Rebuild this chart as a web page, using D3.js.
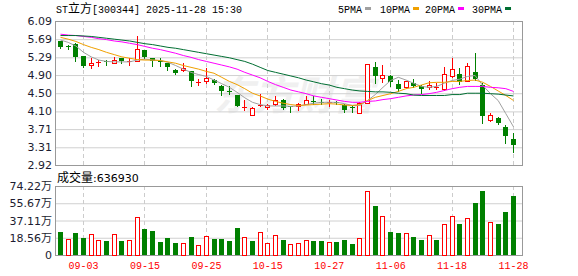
<!DOCTYPE html>
<html lang="zh-CN">
<head>
<meta charset="utf-8">
<title>ST立方 日K</title>
<script src="https://cdn.jsdelivr.net/npm/d3@7/dist/d3.min.js"></script>
<style>
  body { margin: 0; background: #fff; }
  svg text { font-family: "DejaVu Sans", sans-serif; }
  .mono { font-family: "Liberation Mono", "DejaVu Sans Mono", monospace; }
</style>
</head>
<body>
<svg id="chart" width="578" height="276"></svg>
<script>
// trading days shown (2025)
var dates = ["08-29","09-01","09-02","09-03","09-04","09-05","09-08","09-09","09-10","09-11",
  "09-12","09-15","09-16","09-17","09-18","09-19","09-22","09-23","09-24","09-25",
  "09-26","09-29","09-30","10-09","10-10","10-13","10-14","10-15","10-16","10-17",
  "10-20","10-21","10-22","10-23","10-24","10-27","10-28","10-29","10-30","10-31",
  "11-03","11-04","11-05","11-06","11-07","11-10","11-11","11-12","11-13","11-14",
  "11-17","11-18","11-19","11-20","11-21","11-24","11-25","11-26","11-27","11-28"];

var opens = [5.65,5.53,5.59,5.31,5.12,5.18,5.22,5.17,5.27,5.19,
  5.22,5.45,5.27,5.21,5.16,5.02,5.01,5.00,4.73,4.76,
  4.80,4.67,4.55,4.45,4.19,4.03,4.22,4.19,4.27,4.36,
  4.21,4.21,4.27,4.33,4.31,4.29,4.31,4.25,4.20,4.07,
  4.29,5.08,4.84,4.87,4.71,4.63,4.72,4.67,4.63,4.62,
  4.60,4.88,4.92,4.78,4.96,4.68,3.92,3.96,3.75,3.50];
var highs = [5.66,5.56,5.60,5.32,5.28,5.23,5.23,5.30,5.28,5.27,
  5.75,5.46,5.28,5.27,5.17,5.03,5.17,5.00,4.81,5.05,
  4.81,4.68,4.65,4.46,4.34,4.19,4.49,4.26,4.43,4.37,
  4.22,4.28,4.43,4.43,4.37,4.34,4.33,4.26,4.24,4.30,
  5.15,5.18,5.13,4.90,4.79,4.77,4.82,4.68,4.78,4.73,
  5.08,5.27,5.06,5.16,5.38,4.73,4.07,3.97,3.81,3.63];
var lows = [5.50,5.47,5.20,5.07,5.06,5.11,5.13,5.16,5.16,5.13,
  5.21,5.28,5.10,5.11,5.01,4.93,4.98,4.65,4.68,4.72,
  4.70,4.47,4.49,4.21,4.14,4.02,4.21,4.15,4.23,4.15,
  4.09,4.12,4.26,4.27,4.27,4.21,4.27,4.08,4.09,4.06,
  4.28,4.72,4.74,4.67,4.56,4.62,4.63,4.50,4.60,4.60,
  4.58,4.85,4.71,4.76,4.80,3.84,3.88,3.82,3.41,3.20];
var closes = [5.51,5.52,5.29,5.09,5.17,5.19,5.18,5.24,5.20,5.22,
  5.48,5.29,5.22,5.20,5.07,4.95,5.05,4.76,4.75,4.84,
  4.72,4.54,4.54,4.22,4.20,4.18,4.23,4.25,4.34,4.17,
  4.20,4.27,4.34,4.32,4.30,4.30,4.30,4.12,4.19,4.28,
  5.14,4.89,4.90,4.74,4.60,4.76,4.65,4.60,4.69,4.63,
  4.92,5.03,4.74,5.09,4.81,4.00,4.03,3.85,3.56,3.36];

// volume in 万 (10k lots), 1 = up day (red), 0 = down day (green)
var volumes = [25.1,17.2,24.0,18.3,22.6,16.1,15.1,22.6,15.1,16.1,
  40.5,28.0,25.8,14.3,18.3,12.9,12.9,19.4,10.8,20.1,
  17.2,17.2,15.1,29.0,19.0,15.1,24.7,12.5,21.2,16.1,
  11.5,12.5,15.7,15.1,15.1,14.0,14.0,16.1,11.8,17.9,
  68.5,52.7,41.6,24.7,23.7,23.3,19.4,16.1,21.2,16.1,
  33.0,41.6,33.3,39.5,55.9,68.72,35.2,33.3,46.3,63.693];
var volUp = [0,1,0,0,1,1,0,1,0,1, 1,0,0,0,0,0,1,0,1,1,
  0,0,0,0,1,0,1,1,1,0, 1,1,1,0,0,1,0,0,0,1,
  1,0,1,0,0,1,0,0,1,0, 1,1,0,1,0,0,1,0,0,0];

// moving averages
var ma5 = [5.67,5.62,5.54,5.40,5.30,5.23,5.20,5.19,5.19,5.19,
  5.23,5.25,5.23,5.22,5.18,5.11,5.03,4.96,4.91,4.87,
  4.79,4.71,4.63,4.52,4.40,4.30,4.25,4.22,4.22,4.22,
  4.21,4.22,4.25,4.28,4.30,4.30,4.30,4.27,4.23,4.23,
  4.34,4.47,4.63,4.78,4.85,4.79,4.72,4.65,4.63,4.65,
  4.72,4.78,4.81,4.87,4.89,4.67,4.49,4.34,4.05,3.76];
var ma10 = [5.73,5.69,5.64,5.57,5.51,5.46,5.40,5.35,5.30,5.27,
  5.24,5.23,5.23,5.22,5.19,5.16,5.11,5.07,5.03,4.98,
  4.94,4.85,4.76,4.69,4.60,4.50,4.44,4.37,4.32,4.28,
  4.25,4.23,4.24,4.25,4.26,4.27,4.26,4.24,4.23,4.25,
  4.34,4.41,4.45,4.49,4.54,4.60,4.63,4.68,4.73,4.74,
  4.74,4.76,4.76,4.78,4.79,4.74,4.65,4.55,4.45,4.34];
var ma20 = [5.80,5.78,5.77,5.75,5.73,5.70,5.68,5.65,5.63,5.60,
  5.57,5.53,5.49,5.46,5.42,5.38,5.33,5.29,5.24,5.20,
  5.16,5.12,5.08,5.03,4.96,4.90,4.84,4.76,4.69,4.63,
  4.57,4.53,4.49,4.44,4.41,4.38,4.35,4.32,4.30,4.30,
  4.32,4.33,4.36,4.38,4.41,4.44,4.46,4.47,4.49,4.52,
  4.56,4.60,4.63,4.65,4.65,4.65,4.63,4.62,4.60,4.54];
var ma30 = [5.77,5.77,5.77,5.76,5.75,5.73,5.71,5.69,5.67,5.65,
  5.62,5.59,5.57,5.54,5.51,5.49,5.46,5.43,5.40,5.37,
  5.34,5.31,5.28,5.24,5.20,5.14,5.07,5.00,4.96,4.92,
  4.88,4.84,4.79,4.75,4.71,4.68,4.63,4.60,4.57,4.55,
  4.54,4.53,4.53,4.52,4.50,4.49,4.46,4.45,4.45,4.45,
  4.45,4.47,4.47,4.50,4.50,4.50,4.49,4.48,4.46,4.44];

var priceTicks = [6.09, 5.69, 5.29, 4.90, 4.50, 4.10, 3.71, 3.31, 2.92];
var volTicks = [0, 18.56, 37.11, 55.67, 74.22];
var xLabels = ["09-03","09-15","09-25","10-15","10-27","11-06","11-18","11-28"];

var maNames = ["5PMA", "10PMA", "20PMA", "30PMA"];
var maColors = ["#a0a0a0", "#f0a000", "#ff00ff", "#006e32"];
var maSeries = [ma5, ma10, ma20, ma30];

var UP = "#ff0000", DOWN = "#008000";
var left = 55, right = 522;
var pTop = 21, pBot = 165, vTop = 186, vBot = 255;

var svg = d3.select("#chart");

var x = d3.scalePoint().domain(dates).range([60, 513]);
var y = d3.scaleLinear().domain([2.92, 6.09]).range([pBot, pTop]);
var yv = d3.scaleLinear().domain([0, 74.22]).range([vBot, vTop]);

// watermark
svg.append("text")
  .attr("x", 214).attr("y", 110)
  .attr("font-size", "40px")
  .attr("font-weight", "bold")
  .attr("font-style", "italic")
  .style("font-family", "'Noto Sans CJK SC', sans-serif")
  .attr("fill", "#f0f0f0")
  .text("东方财富");

// price axis + horizontal grid
var gy = svg.append("g")
  .attr("transform", "translate(" + left + ",0)")
  .call(d3.axisLeft(y).tickValues(priceTicks).tickFormat(d3.format(".2f"))
    .tickSize(-(right - left)).tickPadding(3));
gy.select(".domain").remove();
gy.selectAll("line").attr("stroke", "#d0d0d0");
gy.selectAll("text").attr("font-size", "11px").attr("fill", "#1c1c30");

// volume axis + grid
var gv = svg.append("g")
  .attr("transform", "translate(" + left + ",0)")
  .call(d3.axisLeft(yv).tickValues(volTicks)
    .tickFormat(function(d){ return d === 0 ? "0" : d.toFixed(2) + "万"; })
    .tickSize(-(right - left)).tickPadding(3));
gv.select(".domain").remove();
gv.selectAll("line").attr("stroke", "#d0d0d0");
gv.selectAll("text").attr("font-size", "11px").attr("fill", "#1c1c30");

// dashed verticals in both panes
xLabels.forEach(function(d){
  var px = Math.round(x(d)) + 0.5;
  [[pTop, pBot], [vTop, vBot]].forEach(function(r){
    svg.append("line")
      .attr("x1", px).attr("x2", px).attr("y1", r[0]).attr("y2", r[1])
      .attr("stroke", "#cccccc").attr("stroke-dasharray", "4,3");
  });
});

// x axis labels
var gx = svg.append("g")
  .attr("transform", "translate(0," + vBot + ")")
  .call(d3.axisBottom(x).tickValues(xLabels).tickSize(0).tickPadding(7));
gx.select(".domain").remove();
gx.selectAll("text").attr("class", "mono").attr("font-size", "10px").attr("fill", "#ff0000");

// pane borders
[[pTop, pBot], [vTop, vBot]].forEach(function(r){
  svg.append("rect")
    .attr("x", left + 0.5).attr("y", r[0] + 0.5)
    .attr("width", right - left).attr("height", r[1] - r[0])
    .attr("fill", "none").attr("stroke", "#999");
});

// candles
var idx = d3.range(dates.length);
var candles = svg.append("g").selectAll("g").data(idx).enter().append("g");
candles.each(function(i){
  var g = d3.select(this);
  var cx = Math.round(x(dates[i]));
  var up = closes[i] > opens[i];
  var col = up ? UP : DOWN;
  g.append("line")
    .attr("x1", cx + 0.5).attr("x2", cx + 0.5)
    .attr("y1", Math.round(y(highs[i]))).attr("y2", Math.round(y(lows[i])) + 1)
    .attr("stroke", col);
  var yt = Math.round(y(Math.max(opens[i], closes[i])));
  var yb = Math.round(y(Math.min(opens[i], closes[i])));
  var h = yb - yt;
  if (up && h >= 2) {
    g.append("rect")
      .attr("x", cx - 1.5).attr("y", yt + 0.5)
      .attr("width", 4).attr("height", h)
      .attr("fill", "#fff").attr("stroke", UP);
  } else {
    g.append("rect")
      .attr("x", cx - 2).attr("y", yt)
      .attr("width", 5).attr("height", Math.max(1, h))
      .attr("fill", col);
  }
});

// moving average lines
maSeries.forEach(function(s, k){
  svg.append("path")
    .datum(idx)
    .attr("fill", "none")
    .attr("stroke", maColors[k])
    .attr("stroke-width", 1)
    .attr("d", d3.line()
      .x(function(i){ return x(dates[i]) + 0.5; })
      .y(function(i){ return y(s[i]); }));
});

// volume bars
svg.append("g").selectAll("rect").data(idx).enter().append("rect")
  .attr("x", function(i){ return Math.round(x(dates[i])) - (volUp[i] ? 1.5 : 2); })
  .attr("y", function(i){ return Math.round(yv(volumes[i])) + (volUp[i] ? 0.5 : 0); })
  .attr("width", function(i){ return volUp[i] ? 4 : 5; })
  .attr("height", function(i){ return vBot - Math.round(yv(volumes[i])) - (volUp[i] ? 0 : 0); })
  .attr("fill", function(i){ return volUp[i] ? "#fff" : DOWN; })
  .attr("stroke", function(i){ return volUp[i] ? UP : "none"; });

// title
var title = svg.append("text").attr("x", 56).attr("y", 13).attr("class", "mono")
  .attr("font-size", "10px").attr("fill", "#000");
title.append("tspan").text("ST");
title.append("tspan").attr("font-size", "12px")
  .style("font-family", "'Noto Sans CJK SC', sans-serif").text("立方");
title.append("tspan").text("[300344] 2025-11-28 15:30");

// legend
var lx = [338, 380, 425, 472];
maNames.forEach(function(n, k){
  var t = svg.append("text").attr("class", "mono")
    .attr("x", lx[k]).attr("y", 13)
    .attr("font-size", "10px").attr("fill", "#000").text(n);
  var w = t.node().getComputedTextLength();
  svg.append("rect")
    .attr("x", lx[k] + w + 3).attr("y", 7)
    .attr("width", 6).attr("height", 3)
    .attr("fill", maColors[k]);
});

// volume caption
var cap = svg.append("text").attr("x", 57).attr("y", 182).attr("fill", "#000");
cap.append("tspan").attr("font-size", "12px")
  .style("font-family", "'Noto Sans CJK SC', sans-serif").text("成交量");
cap.append("tspan").attr("font-size", "11px").text(":" + Math.round(volumes[volumes.length - 1] * 10000));
</script>
</body>
</html>
